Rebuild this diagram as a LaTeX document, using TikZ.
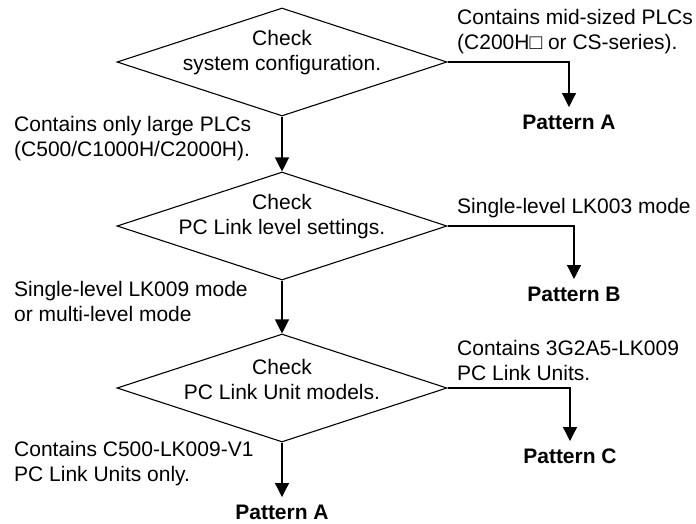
\documentclass[tikz,border=0pt]{standalone}
\usepackage{fontspec}
\setmainfont{Liberation Sans}
\usetikzlibrary{shapes.geometric,arrows.meta}
\begin{document}
\begin{tikzpicture}[x=1pt, y=-1pt,
  decision/.style={
    diamond, draw, line width=1.1pt, minimum width=330pt, minimum height=108pt,
    inner sep=0pt
  },
  inside/.style={font=\fontsize{21}{25}\selectfont, align=center, inner sep=0pt},
  note/.style={font=\fontsize{21}{25}\selectfont, align=left, anchor=west, inner sep=0pt},
  result/.style={font=\fontsize{21}{25}\selectfont\bfseries, anchor=north, inner sep=8pt},
  arrow/.style={-{Triangle[width=14pt,length=14pt]}, line width=1.2pt}
]
\useasboundingbox (0,0) rectangle (696,523);

% Checks (centre column)
\node[decision] (syscfg) at (282,62) {};
\node[decision] (level) at (282,226) {};
\node[decision] (models) at (282,388) {};
\node[inside] (syscfgtxt) at (282,53) {Check\\system configuration.};
\node[inside] (leveltxt) at (282,217) {Check\\PC Link level settings.};
\node[inside] (modelstxt) at (282,379) {Check\\PC Link Unit models.};

% Patterns
\node[result] (patA) at (569,107) {Pattern A};
\node[result] (patB) at (574,279) {Pattern B};
\node[result] (patC) at (570,441) {Pattern C};
\node[result] (patAlow) at (282,497) {Pattern A};

% Conditions (left)
\node[note] (large) at (14,139)
  {Contains only large PLCs\\(C500/C1000H/C2000H).};
\node[note] (lk009) at (14,301)
  {Single-level LK009 mode\\or multi-level mode};
\node[note] (v1) at (14,464)
  {Contains C500-LK009-V1\\PC Link Units only.};

% Conditions (right)
\node[note] (midsize) at (457,32)
  {Contains mid-sized PLCs\\(C200H□ or CS-series).};
\node[note] (lk003) at (457,208) {Single-level LK003 mode};
\node[note] (g2a5) at (457,360)
  {Contains 3G2A5-LK009\\PC Link Units.};

% Arrows
\draw[arrow] (syscfg.south) -- (level.north);
\draw[arrow] (level.south) -- (models.north);
\draw[arrow] (models.south) -- (patAlow.north);
\draw[arrow] (syscfg.east) -| (patA.north);
\draw[arrow] (level.east) -| (patB.north);
\draw[arrow] (models.east) -| (patC.north);
\end{tikzpicture}
\end{document}
